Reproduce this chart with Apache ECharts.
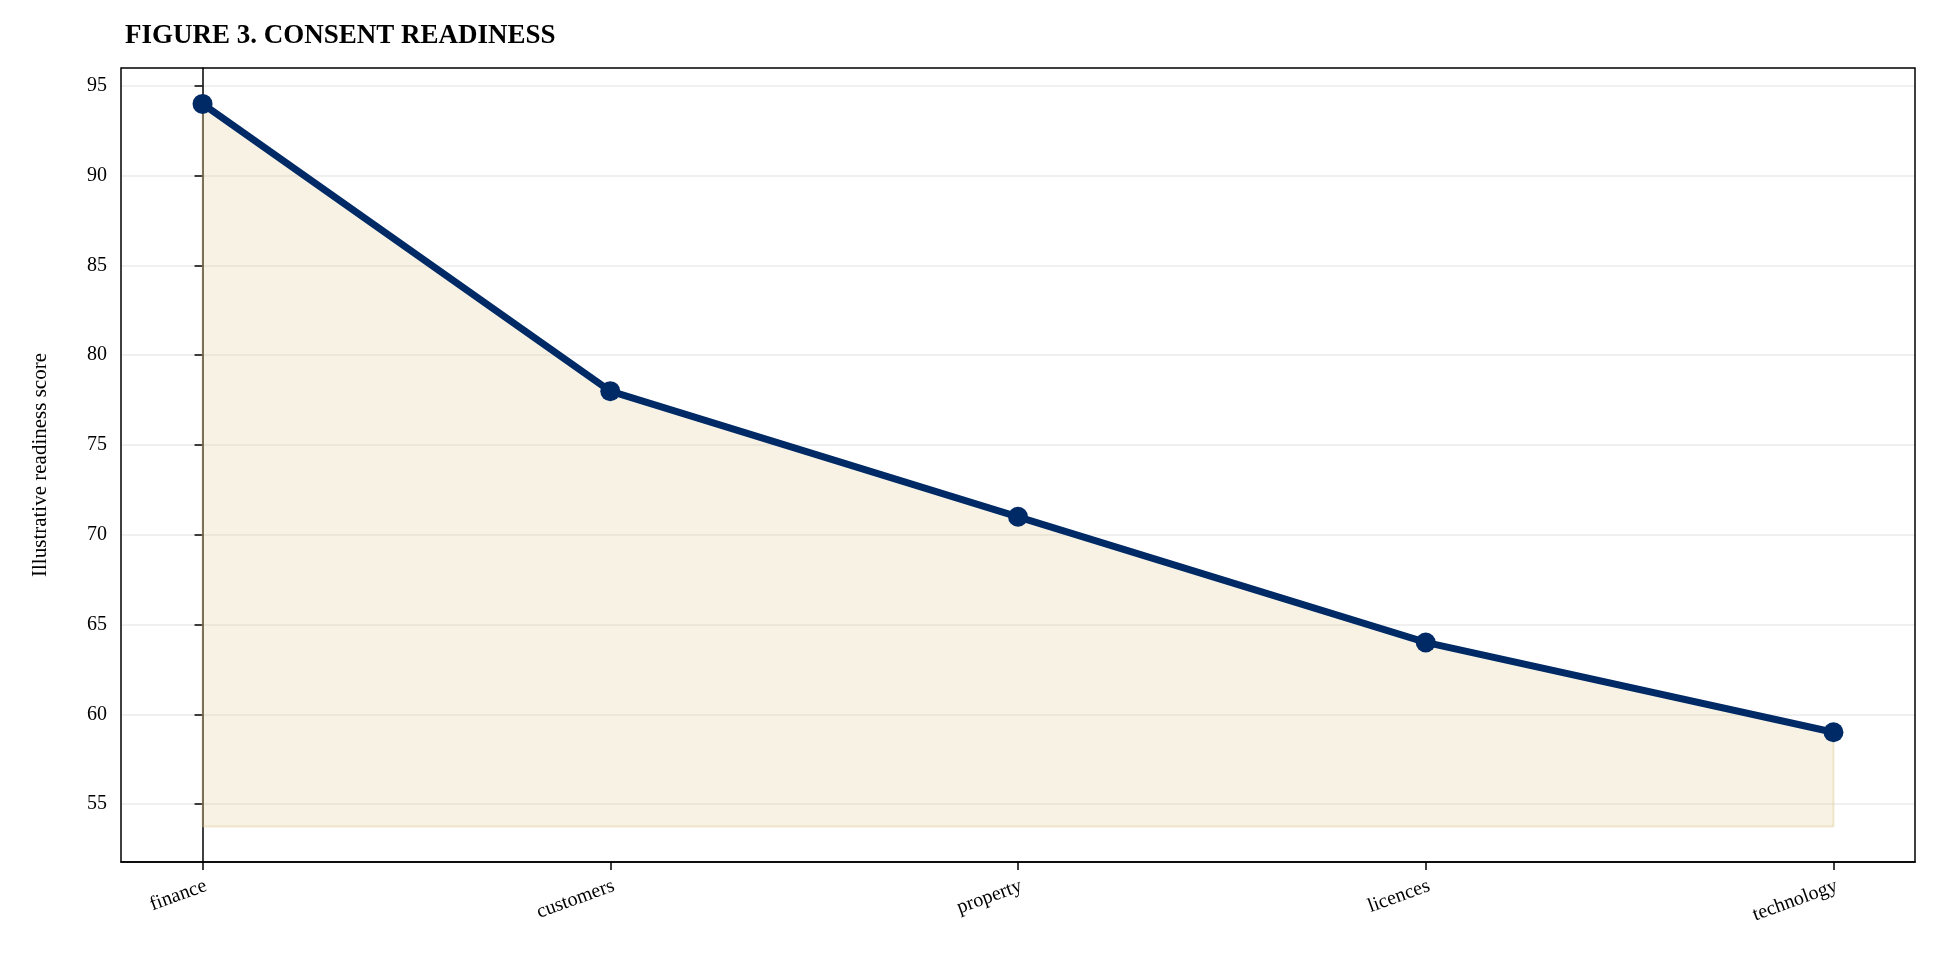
<!DOCTYPE html><html><head><meta charset="utf-8"><script src="https://cdn.jsdelivr.net/npm/echarts@6/dist/echarts.min.js"></script>
<style>html,body{margin:0;background:#fff}#c{width:1939px;height:977px}</style></head><body><div id="c"></div><script>
const categories=['finance','customers','property','licences','technology'];
const values=[94,78,71,64,59];
const yTicks=[55,60,65,70,75,80,85,90,95];
const F='Liberation Serif';
const c=echarts.init(document.getElementById('c'));
c.setOption({
 title:{text:'FIGURE 3. CONSENT READINESS',left:120,top:18,textStyle:{fontFamily:F,fontSize:27,fontWeight:'bold',color:'#000'}},
 grid:{left:121,top:68,right:24,bottom:115,containLabel:false},
 xAxis:{type:'value',min:-0.2,max:4.2,interval:1,
  axisLine:{show:true,lineStyle:{color:'#000',width:1.5}},axisTick:{show:true,length:8,lineStyle:{color:'#000',width:1.5},customValues:[0,1,2,3,4]},
  splitLine:{show:false},
  axisLabel:{customValues:[0,1,2,3,4],formatter:v=>categories[Math.round(v)]||'',rotate:20,fontFamily:F,fontSize:20,color:'#000',margin:14,align:'right',verticalAlign:'top'}},
 yAxis:{type:'value',min:51.77,max:96,name:'Illustrative readiness score',nameLocation:'middle',nameGap:70,nameTextStyle:{fontFamily:F,fontSize:21,color:'#000'},
  axisLine:{show:true,lineStyle:{color:'#000',width:1.5}},axisTick:{show:true,length:8,lineStyle:{color:'#000',width:1.5},customValues:yTicks},
  axisLabel:{customValues:yTicks,fontFamily:F,fontSize:20,color:'#000',margin:14},
  splitLine:{show:true,lineStyle:{color:'#ebebeb',width:1.5}}},
 series:[{type:'line',data:values.map((v,i)=>[i,v]),symbol:'circle',symbolSize:20,
  itemStyle:{color:'#002a66'},lineStyle:{color:'#002a66',width:7},
  areaStyle:{origin:53.75,color:'rgba(217,192,128,0.3)'}},
  {type:'line',data:[[0,53.75],[0,94]],symbol:'none',lineStyle:{color:'rgba(217,192,128,0.35)',width:2},silent:true},
  {type:'line',data:[[4,53.75],[4,59],],symbol:'none',lineStyle:{color:'rgba(217,192,128,0.35)',width:2},silent:true},
  {type:'line',data:[[0,53.75],[4,53.75]],symbol:'none',lineStyle:{color:'rgba(217,192,128,0.35)',width:2},silent:true}]
});
c.setOption({graphic:[{type:'rect',shape:{x:121,y:68,width:1794,height:794},style:{fill:'none',stroke:'#000',lineWidth:1.5},silent:true}]});
</script></body></html>
